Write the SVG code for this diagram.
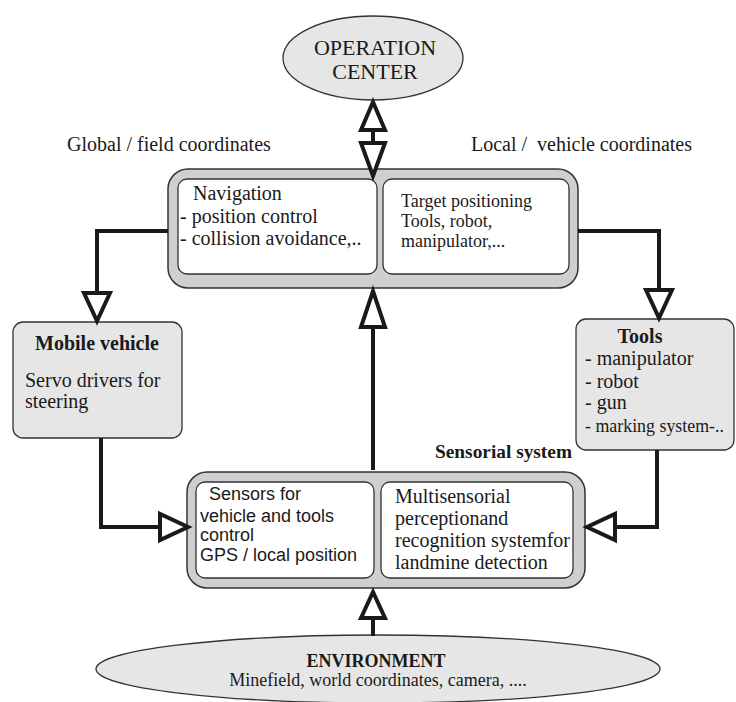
<svg xmlns="http://www.w3.org/2000/svg" width="736" height="702" viewBox="0 0 736 702">
<style>
.serif{font-family:"Liberation Serif","Times New Roman",serif;fill:#1a1a1a}
.sans{font-family:"Liberation Sans",Arial,sans-serif;fill:#1a1a1a}
.b{font-weight:bold}
.outer{fill:#cfcfcf;stroke:#333;stroke-width:1.5}
.inner{fill:#fff;stroke:#333;stroke-width:1.3}
.light{fill:#e6e6e6;stroke:#333;stroke-width:1.3}
.line{fill:none;stroke:#1a1a1a;stroke-width:4}
.head{fill:#fff;stroke:#1a1a1a;stroke-width:4;stroke-linejoin:miter}
</style>
<rect width="736" height="702" fill="#fff"/>

<g id="operation-center">
<ellipse cx="373" cy="58" rx="90" ry="42" class="light"/>
<text x="375" y="55" class="serif" font-size="22" text-anchor="middle">OPERATION</text>
<text x="375" y="79" class="serif" font-size="22" text-anchor="middle">CENTER</text>
</g>

<g id="labels">
<text x="67" y="151" class="serif" font-size="20">Global / field coordinates</text>
<text x="471" y="151" class="serif" font-size="20" xml:space="preserve">Local /  vehicle coordinates</text>
</g>

<g id="navigation">
<rect x="168" y="169" width="410" height="119" rx="20" class="outer"/>
<rect x="178" y="179" width="199" height="95" rx="9" class="inner"/>
<rect x="383" y="179" width="186" height="95" rx="9" class="inner"/>
<text x="193" y="200" class="serif" font-size="20">Navigation</text>
<text x="180" y="223" class="serif" font-size="20">- position control</text>
<text x="180" y="245" class="serif" font-size="20">- collision avoidance,..</text>
<text x="401" y="207" class="serif" font-size="18">Target positioning</text>
<text x="401" y="227" class="serif" font-size="18">Tools, robot,</text>
<text x="401" y="247" class="serif" font-size="18">manipulator,...</text>
</g>

<g id="mobile-vehicle">
<rect x="13" y="322" width="169" height="116" rx="10" class="light"/>
<text x="97" y="350" class="serif b" font-size="20" text-anchor="middle">Mobile vehicle</text>
<text x="25" y="387" class="serif" font-size="20">Servo drivers for</text>
<text x="25" y="408" class="serif" font-size="20">steering</text>
</g>

<g id="tools">
<rect x="576" y="319" width="158" height="131" rx="10" class="light"/>
<text x="640" y="343" class="serif b" font-size="20" text-anchor="middle">Tools</text>
<text x="585" y="365" class="serif" font-size="20">- manipulator</text>
<text x="585" y="388" class="serif" font-size="20">- robot</text>
<text x="585" y="409" class="serif" font-size="20">- gun</text>
<text x="585" y="432" class="serif" font-size="19" textLength="139" lengthAdjust="spacingAndGlyphs">- marking system-..</text>
</g>

<g id="sensorial-system">
<text x="435" y="458" class="serif b" font-size="19" textLength="137" lengthAdjust="spacingAndGlyphs">Sensorial system</text>
<rect x="187" y="472" width="398" height="116" rx="20" class="outer"/>
<rect x="196" y="482" width="178" height="96" rx="9" class="inner"/>
<rect x="381" y="482" width="192" height="96" rx="9" class="inner"/>
<text x="209" y="500" class="sans" font-size="18">Sensors for</text>
<text x="200" y="522" class="sans" font-size="18">vehicle and tools</text>
<text x="200" y="541" class="sans" font-size="18">control</text>
<text x="200" y="561" class="sans" font-size="18">GPS / local position</text>
<text x="395" y="503" class="serif" font-size="20">Multisensorial</text>
<text x="395" y="525" class="serif" font-size="20">perceptionand</text>
<text x="395" y="547" class="serif" font-size="20">recognition systemfor</text>
<text x="395" y="569" class="serif" font-size="20">landmine detection</text>
</g>

<g id="environment">
<ellipse cx="378" cy="669" rx="282" ry="34" class="light"/>
<text x="376" y="667" class="serif b" font-size="18" text-anchor="middle">ENVIRONMENT</text>
<text x="378" y="686" class="serif" font-size="18" text-anchor="middle">Minefield, world coordinates, camera, ....</text>
</g>

<g id="connectors">
<path d="M373,130 V143" class="line"/>
<polygon points="361,130 385,130 373,102" class="head"/>
<polygon points="361,143 385,143 373,176" class="head"/>
<path d="M168,231 H97 V293" class="line"/>
<polygon points="84,293 110,293 97,321" class="head"/>
<path d="M578,231 H659 V290" class="line"/>
<polygon points="646,290 672,290 659,318" class="head"/>
<path d="M101,438 V527 H160" class="line"/>
<polygon points="160,514 160,540 188,527" class="head"/>
<path d="M657,450 V527 H615" class="line"/>
<polygon points="615,514 615,540 587,527" class="head"/>
<path d="M373,470 V327" class="line"/>
<polygon points="361,327 385,327 373,291" class="head"/>
<path d="M373,636 V618" class="line"/>
<polygon points="361,618 385,618 373,592" class="head"/>
</g>
</svg>
